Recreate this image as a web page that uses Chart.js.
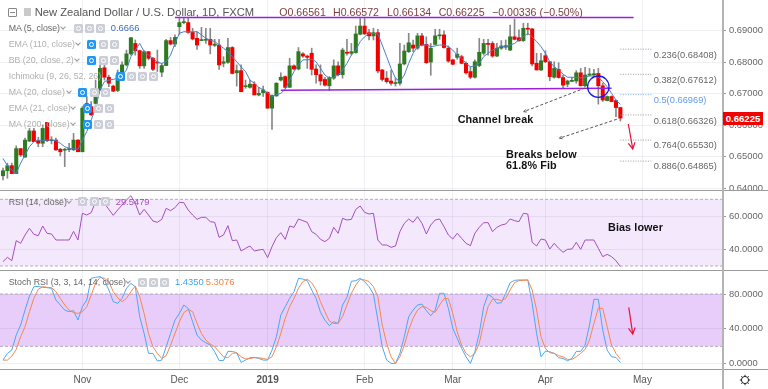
<!DOCTYPE html>
<html>
<head>
<meta charset="utf-8">
<script src="https://cdn.jsdelivr.net/npm/chart.js@4"></script>
<style>
html, body { margin: 0; padding: 0; background: #fff; }
#wrap { position: relative; width: 768px; height: 389px; overflow: hidden; font-family: "Liberation Sans", Arial, sans-serif; }
canvas { position: absolute; left: 0; }
.sep { position: absolute; left: 0; width: 768px; height: 1px; background: #9b9b9b; }
.vsep { position: absolute; left: 722px; top: 0; width: 2px; height: 389px; background: #b4b4b4; }
.t { position: absolute; white-space: nowrap; line-height: 12px; }
.lg { font-size: 8.8px; color: #b0b0b0; }
.lg.on { color: #666; }
.val { font-size: 9.4px; }
.fib { font-size: 9.3px; color: #666; }
.note { font-size: 10.8px; font-weight: bold; color: #111; letter-spacing: 0.1px; }
.ohlc { font-size: 10.6px; color: #7b3f3f; }
.btn { position: absolute; width: 9px; height: 9px; border-radius: 1.5px; background: #cbced6; }
.btn.blue { background: #2196f3; }
.btn::after { content: ""; position: absolute; left: 2px; top: 2px; width: 3px; height: 3px; border: 1px solid #fff; border-radius: 50%; }
.chev { position: absolute; width: 3px; height: 3px; border-right: 1px solid #999; border-bottom: 1px solid #999; transform: rotate(45deg); }
</style>
</head>
<body>
<div id="wrap">
  <canvas id="priceChart" width="768" height="190" style="top:0"></canvas>
  <canvas id="rsiChart" width="768" height="79" style="top:191px"></canvas>
  <canvas id="stochChart" width="768" height="118" style="top:271px"></canvas>
  <div class="sep" style="top:190px"></div>
  <div class="sep" style="top:270px"></div>
  <div class="sep" style="top:369px"></div>
  <div class="vsep"></div>
</div>
<script>
// candles (index 0 = mid Oct 2018, last = 24 Apr 2019)
const opens = [
  .6440,.6456,.6472,.6447,.6526,.6499,.6550,.6582,.6551,.6543,
  .6609,.6551,.6553,.6524,.6521,.6523,.6522,.6553,.6516,.6654,
  .6659,.6669,.6712,.6782,.6752,.6724,.6710,.6759,.6791,.6826,
  .6859,.6836,.6788,.6833,.6812,.6799,.6768,.6789,.6868,.6857,
  .6912,.6925,.6925,.6894,.6875,.6868,.6869,.6872,.6853,.6854,
  .6796,.6799,.6846,.6766,.6773,.6722,.6720,.6730,.6696,.6703,
  .6704,.6654,.6693,.6743,.6754,.6720,.6788,.6778,.6826,.6819,
  .6828,.6778,.6760,.6745,.6725,.6749,.6788,.6760,.6830,.6828,
  .6830,.6888,.6914,.6893,.6883,.6893,.6775,.6749,.6740,.6732,
  .6733,.6794,.6833,.6854,.6844,.6883,.6856,.6800,.6856,.6883,
  .6886,.6844,.6807,.6815,.6817,.6796,.6770,.6752,.6789,.6828,
  .6859,.6859,.6819,.6844,.6847,.6838,.6880,.6877,.6868,.6907,
  .6905,.6796,.6775,.6820,.6801,.6752,.6777,.6751,.6730,.6739,
  .6740,.6766,.6725,.6759,.6760,.6764,.6725,.6678,.6691,.6678,
  .66561];
const highs = [
  .6464,.6480,.6480,.6535,.6526,.6559,.6590,.6590,.6562,.6601,
  .6609,.6564,.6559,.6527,.6527,.6543,.6574,.6555,.6659,.6691,
  .6675,.6743,.6791,.6791,.6759,.6727,.6775,.6801,.6838,.6878,
  .6870,.6838,.6836,.6833,.6815,.6838,.6796,.6872,.6878,.6886,
  .6938,.6938,.6938,.6907,.6896,.6910,.6907,.6907,.6872,.6872,
  .6817,.6875,.6849,.6791,.6791,.6743,.6743,.6738,.6720,.6724,
  .6706,.6696,.6735,.6766,.6756,.6812,.6791,.6846,.6830,.6822,
  .6844,.6791,.6791,.6752,.6754,.6807,.6801,.6844,.6872,.6859,
  .6914,.6938,.6938,.6904,.6907,.6904,.6777,.6770,.6775,.6749,
  .6859,.6854,.6891,.6870,.6891,.6891,.6880,.6859,.6904,.6904,
  .6899,.6851,.6809,.6844,.6822,.6801,.6785,.6807,.6875,.6872,
  .6872,.6865,.6859,.6868,.6870,.6917,.6936,.6902,.6923,.6923,
  .6907,.6828,.6828,.6836,.6801,.6801,.6798,.6759,.6743,.6752,
  .6773,.6780,.6783,.6780,.6777,.6780,.6733,.6693,.6693,.6680,
  .66572];
const lows = [
  .6427,.6432,.6447,.6447,.6501,.6499,.6548,.6548,.6532,.6532,
  .6548,.6541,.6520,.6503,.6469,.6516,.6520,.6516,.6516,.6638,
  .6630,.6669,.6710,.6743,.6722,.6706,.6706,.6756,.6788,.6822,
  .6822,.6780,.6780,.6807,.6773,.6770,.6754,.6789,.6854,.6849,
  .6888,.6921,.6891,.6870,.6840,.6868,.6859,.6826,.6849,.6777,
  .6785,.6796,.6762,.6724,.6706,.6717,.6717,.6696,.6693,.6691,
  .6654,.6587,.6691,.6740,.6717,.6720,.6775,.6775,.6815,.6780,
  .6759,.6733,.6727,.6724,.6710,.6745,.6756,.6749,.6822,.6822,
  .6828,.6886,.6888,.6870,.6870,.6766,.6740,.6733,.6727,.6724,
  .6727,.6791,.6830,.6833,.6840,.6851,.6796,.6758,.6854,.6872,
  .6844,.6799,.6791,.6809,.6794,.6762,.6747,.6749,.6785,.6822,
  .6822,.6815,.6817,.6840,.6840,.6836,.6870,.6865,.6865,.6886,
  .6788,.6775,.6773,.6798,.6741,.6749,.6749,.6717,.6722,.6738,
  .6733,.6724,.6722,.6756,.6756,.6667,.6675,.6677,.6674,.6627,
  .66134];
const closes = [
  .6456,.6472,.6447,.6526,.6506,.6553,.6582,.6548,.6543,.6590,
  .6551,.6553,.6522,.6516,.6524,.6526,.6553,.6516,.6654,.6669,
  .6633,.6712,.6780,.6752,.6733,.6708,.6759,.6791,.6826,.6877,
  .6836,.6788,.6833,.6812,.6777,.6797,.6789,.6868,.6857,.6878,
  .6925,.6927,.6894,.6873,.6854,.6870,.6871,.6854,.6857,.6791,
  .6801,.6846,.6764,.6773,.6706,.6724,.6730,.6696,.6701,.6712,
  .6654,.6694,.6733,.6752,.6720,.6788,.6778,.6833,.6819,.6815,
  .6777,.6760,.6740,.6727,.6751,.6788,.6760,.6838,.6828,.6833,
  .6889,.6914,.6889,.6883,.6893,.6772,.6745,.6738,.6733,.6734,
  .6794,.6835,.6861,.6844,.6883,.6854,.6798,.6844,.6883,.6886,
  .6846,.6803,.6793,.6825,.6796,.6766,.6752,.6801,.6831,.6859,
  .6856,.6819,.6844,.6851,.6852,.6880,.6872,.6868,.6907,.6904,
  .6794,.6775,.6804,.6801,.6754,.6780,.6751,.6727,.6740,.6741,
  .6766,.6725,.6759,.6761,.6762,.6725,.6680,.6691,.6675,.6656,
  .66225];
const ma5 = [
  .6495,.6472,.6458,.6448,.6480,.6506,.6532,.6548,.6553,.6551,
  .6553,.6553,.6551,.6543,.6532,.6527,.6525,.6524,.6553,.6580,
  .6617,.6654,.6712,.6738,.6743,.6745,.6749,.6759,.6775,.6817,
  .6838,.6859,.6833,.6822,.6812,.6799,.6796,.6801,.6822,.6859,
  .6891,.6896,.6896,.6896,.6896,.6886,.6875,.6870,.6865,.6854,
  .6844,.6833,.6817,.6801,.6785,.6770,.6743,.6733,.6720,.6712,
  .6703,.6691,.6696,.6701,.6714,.6743,.6770,.6791,.6807,.6807,
  .6809,.6801,.6780,.6759,.6749,.6752,.6759,.6775,.6796,.6822,
  .6838,.6865,.6880,.6891,.6891,.6889,.6854,.6817,.6780,.6749,
  .6738,.6759,.6796,.6828,.6849,.6854,.6854,.6849,.6851,.6854,
  .6854,.6849,.6838,.6822,.6812,.6796,.6785,.6788,.6796,.6817,
  .6828,.6838,.6844,.6849,.6849,.6854,.6859,.6870,.6880,.6891,
  .6880,.6865,.6849,.6828,.6801,.6785,.6775,.6762,.6752,.6752,
  .6751,.6750,.6752,.6756,.6756,.6752,.6738,.6722,.6701,.6680,
  .6666];
const rsi = [
  32.6,35.2,33.2,45.2,43.6,48.6,52.6,49,48.2,54,
  49.6,49.2,45.6,45.6,45.6,45.6,50.8,45.6,61.6,60.6,
  62,68.6,70.6,67.6,64,60.4,63.6,66.6,69.6,72.2,
  67.6,60.6,64,60.6,57,56.2,58,64.6,63.2,65,
  68.2,68,63.6,60.6,58,59.2,59.2,56.6,56.2,47.2,
  48.6,54.2,45.2,45.6,39,40.6,42,39,39.6,40,
  35,41.6,47,50,46,54,53.2,58.2,57.2,56.2,
  50.6,49,46,44.6,46.6,53.2,49.6,58.6,57.6,58,
  64,66,62.2,61.2,61.6,45.6,42.6,42.6,41.2,42,
  50.6,55.6,58.2,56.2,59.6,55.6,49.2,54.6,57.6,58.2,
  53.6,48.6,46.2,49.6,46.6,43.6,42.2,49.6,53.2,56,
  56,50.6,53.2,54.6,55.2,58.2,57.2,56.6,61.6,61.2,
  44.2,42,46.2,45.6,40.2,43.6,40.6,38.2,40,40.2,
  44.2,40,45.6,45.6,45.6,40.6,35.6,37,35.6,33.2,
  29.5479];
const stochK = [
  4.2,11.9,15.7,32.9,44.4,61.6,77.7,88.4,88.8,87.7,
  87.3,86.5,73.1,67.4,61.6,59.7,60.9,50.1,65.5,73.1,
  98,99.1,100,96.1,84.6,71.2,69.3,75,86.5,92.3,
  88.4,54,34.8,11.9,11.9,3.1,4.2,19.5,34.8,50.1,
  57.8,67.4,63.5,48.2,32.9,27.2,24.1,21.4,13.8,3.8,
  3.8,14.2,14.2,12.6,1.5,4.2,6.9,7.3,6.1,4.2,
  4.2,15.7,31,55.9,65.5,75,82.7,98,97.2,95.3,
  84.6,75,59,50.1,43.6,48.2,46.3,67.4,76.2,94.6,
  95.3,98,94.2,88.4,80,50.1,19.5,4.2,0.4,0.4,
  11.9,31,54,61.6,67.4,68.5,60.9,55.1,61.6,80.8,
  80.8,63.5,40.6,29.1,17.6,8,0.4,13.8,34.8,65.5,
  79.6,76.2,69.3,70.1,80.8,93,95.7,96.1,96.1,96.1,
  69.3,34.8,8,14.5,13.8,11.9,6.9,6.1,3.4,6.1,
  14.2,14.2,21.4,44.4,73.9,73.9,38.7,15.7,8,7.3,
  1.435];
const stochD = [
  4.2,4.2,8.8,16.5,31,42.5,59.7,75,85.4,88.4,
  87.7,87.3,82.7,75,67.4,61.6,58.6,57.8,59.7,65.5,
  78.9,92.3,99.1,98,94.2,82.7,75.8,71.2,75,82.7,
  89.2,76.9,57.8,34.8,19.5,11.9,6.1,9.2,21.4,34.8,
  48.2,58.6,62.4,59.7,46.3,34.8,27.2,22.6,19.5,13.8,
  8,6.9,11.9,12.6,8,5.4,6.1,6.9,6.9,6.1,
  5,8,19.5,34.8,52.1,65.5,75,86.5,94.2,96.9,
  93,84.6,71.2,59.7,49,46.3,46.3,54,67.4,80.8,
  90.3,96.9,96.1,94.2,88.4,76.9,44.4,23.4,8,0.4,
  8,21.4,38.7,52.1,61.6,65.5,64.7,60.9,59,67.4,
  74.7,74.7,57.8,36.7,21.4,11.9,8,11.9,23.4,46.3,
  65.5,73.9,73.9,72.4,75,84.6,93,95.3,95.7,96.1,
  84.6,61.6,31,17.6,12.6,11.9,9.2,8,5,5,
  8,11.9,16.5,27.2,46.3,63.9,63.5,42.5,21.4,11.9,
  5.3076];

// axis ticks
const monthIdx = [18, 40, 60, 82, 102, 123, 145];
const monthNames = ['Nov', 'Dec', '2019', 'Feb', 'Mar', 'Apr', 'May'];
const priceTicks = [0.64, 0.65, 0.66, 0.67, 0.68, 0.69];
const rsiTicks = [40, 60];
const stochTicks = [0, 40, 80];

// trader drawings, in bar index / axis value
const channelTop = [[39, 0.6941], [143, 0.6941]];
const channelLow = [[63, 0.6711], [138, 0.6717]];
const fibX = [140, 147];
const fibLevels = [0.68408, 0.67612, 0.66969, 0.66326, 0.6553, 0.64865];
const fibNames = ['0.236(0.68408)', '0.382(0.67612)', '0.5(0.66969)', '0.618(0.66326)', '0.764(0.65530)', '0.886(0.64865)'];
const dashArrows = [[[132, 0.6718], [118.1, 0.6643]], [[139.2, 0.6619], [126.2, 0.6559]]];
const priceArrow = [[141.8, 0.6604], [142.8, 0.6525]];
const stochArrow = [[141.9, 64.7], [142.8, 34.1]];
const circleAt = [135, 0.6722];

const xMin = -0.68;
const xMax = 163.27;
const idx = opens.map((_, i) => i);
const asPoints = arr => arr.map((v, i) => ({ x: i, y: v }));
const gridColor = 'rgba(30,40,80,0.07)';

function xAxis(showLabels) {
    return {
        type: 'linear',
        offset: false,
        min: xMin,
        max: xMax,
        afterBuildTicks: axis => { axis.ticks = monthIdx.map(v => ({ value: v })); },
        afterFit: axis => {
            axis.height = showLabels ? 20 : 0;
            axis.paddingLeft = axis.paddingRight = 0;
        },
        border: { display: false },
        grid: { color: gridColor, drawTicks: false, offset: false },
        ticks: {
            display: showLabels,
            autoSkip: false,
            maxRotation: 0,
            padding: 5,
            color: '#555',
            font: c => ({ family: 'Liberation Sans', size: 10, weight: c.tick && c.tick.value === 60 ? 'bold' : 'normal' }),
            callback: v => monthNames[monthIdx.indexOf(v)]
        }
    };
}

function yAxis(min, max, ticks, digits) {
    return {
        position: 'right',
        min: min,
        max: max,
        afterBuildTicks: axis => { axis.ticks = ticks.map(v => ({ value: v })); },
        afterFit: axis => {
            axis.width = 45;
            axis.paddingTop = axis.paddingBottom = 0;
        },
        border: { display: false },
        grid: { color: gridColor, tickLength: 3, tickColor: '#999' },
        ticks: {
            padding: 3,
            color: '#666',
            font: { family: 'Liberation Sans', size: 9.4 },
            callback: v => v.toFixed(digits)
        }
    };
}

function arrowHead(ctx, from, to, size) {
    const a = Math.atan2(to.y - from.y, to.x - from.x);
    ctx.beginPath();
    ctx.moveTo(to.x - size * Math.cos(a - 0.5), to.y - size * Math.sin(a - 0.5));
    ctx.lineTo(to.x, to.y);
    ctx.lineTo(to.x - size * Math.cos(a + 0.5), to.y - size * Math.sin(a + 0.5));
    ctx.stroke();
}

function toPx(chart, p) {
    return { x: chart.scales.x.getPixelForValue(p[0]), y: chart.scales.y.getPixelForValue(p[1]) };
}

// shaded band with dashed edges for the oscillators
function bandPlugin(lo, hi, fill) {
    return {
        id: 'band',
        beforeDraw(chart) {
            const { ctx, chartArea: a, scales } = chart;
            const yHi = scales.y.getPixelForValue(hi);
            const yLo = scales.y.getPixelForValue(lo);
            ctx.save();
            ctx.fillStyle = fill;
            ctx.fillRect(a.left, yHi, a.right - a.left, yLo - yHi);
            ctx.restore();
        },
        afterDatasetsDraw(chart) {
            const { ctx, chartArea: a, scales } = chart;
            ctx.save();
            ctx.strokeStyle = '#b9a9bf';
            ctx.setLineDash([3, 2]);
            [hi, lo].forEach(v => {
                const y = scales.y.getPixelForValue(v);
                ctx.beginPath();
                ctx.moveTo(a.left, y);
                ctx.lineTo(a.right, y);
                ctx.stroke();
            });
            ctx.restore();
        }
    };
}

const drawings = {
    id: 'drawings',
    afterDatasetsDraw(chart) {
        const ctx = chart.ctx;
        ctx.save();
        ctx.lineWidth = 1.4;
        ctx.strokeStyle = '#9a1fe0';
        [channelTop, channelLow].forEach(l => {
            const a = toPx(chart, l[0]), b = toPx(chart, l[1]);
            ctx.beginPath();
            ctx.moveTo(a.x, a.y);
            ctx.lineTo(b.x, b.y);
            ctx.stroke();
        });
        ctx.lineWidth = 1;
        ctx.strokeStyle = '#9a9a9a';
        ctx.setLineDash([1, 1.5]);
        fibLevels.forEach((v, i) => {
            const a = toPx(chart, [fibX[0], v]), b = toPx(chart, [fibX[1], v]);
            ctx.strokeStyle = i === 2 ? '#7fb0ee' : '#9a9a9a';
            ctx.beginPath();
            ctx.moveTo(a.x, a.y);
            ctx.lineTo(b.x, b.y);
            ctx.stroke();
        });
        ctx.strokeStyle = '#555';
        dashArrows.forEach(l => {
            const a = toPx(chart, l[0]), b = toPx(chart, l[1]);
            ctx.setLineDash([3, 2]);
            ctx.beginPath();
            ctx.moveTo(a.x, a.y);
            ctx.lineTo(b.x, b.y);
            ctx.stroke();
            ctx.setLineDash([]);
            arrowHead(ctx, a, b, 3);
        });
        const c = toPx(chart, circleAt);
        ctx.strokeStyle = '#1a1ae6';
        ctx.lineWidth = 1.3;
        ctx.beginPath();
        ctx.arc(c.x, c.y, 10.7, 0, Math.PI * 2);
        ctx.stroke();
        redArrow(chart, priceArrow);
        ctx.restore();
    }
};

function redArrow(chart, line) {
    const ctx = chart.ctx;
    const a = toPx(chart, line[0]), b = toPx(chart, line[1]);
    ctx.save();
    ctx.setLineDash([]);
    ctx.strokeStyle = '#e8123c';
    ctx.lineWidth = 1.2;
    ctx.beginPath();
    ctx.moveTo(a.x, a.y);
    ctx.lineTo(b.x, b.y);
    ctx.stroke();
    arrowHead(ctx, a, b, 7);
    ctx.restore();
}

new Chart(document.getElementById('priceChart'), {
    data: {
        datasets: [
            {
                type: 'line',
                data: asPoints(ma5),
                borderColor: '#4a7fc4',
                borderWidth: 1,
                pointRadius: 0,
                order: 0
            },
            {
                type: 'bar',
                data: idx.map(i => ({ x: i, y: [opens[i], closes[i]] })),
                backgroundColor: idx.map(i => closes[i] >= opens[i] ? '#2d7a22' : '#f20000'),
                barThickness: 3.4,
                minBarLength: 1,
                grouped: false,
                order: 1
            },
            {
                type: 'bar',
                data: idx.map(i => ({ x: i, y: [lows[i], highs[i]] })),
                backgroundColor: '#888',
                barThickness: 1,
                grouped: false,
                order: 2
            }
        ]
    },
    options: {
        responsive: false,
        animation: false,
        layout: { padding: 0 },
        plugins: { legend: { display: false }, tooltip: { enabled: false } },
        scales: { x: xAxis(false), y: yAxis(0.6395, 0.69965, priceTicks, 5) }
    },
    plugins: [drawings]
});

new Chart(document.getElementById('rsiChart'), {
    type: 'line',
    data: {
        datasets: [{
            data: asPoints(rsi),
            borderColor: '#a54fc0',
            borderWidth: 1,
            pointRadius: 0
        }]
    },
    options: {
        responsive: false,
        animation: false,
        layout: { padding: 0 },
        plugins: { legend: { display: false }, tooltip: { enabled: false } },
        scales: { x: xAxis(false), y: yAxis(27.6, 75, rsiTicks, 4) }
    },
    plugins: [bandPlugin(30, 70, '#f4e8fd')]
});

new Chart(document.getElementById('stochChart'), {
    type: 'line',
    data: {
        datasets: [
            { data: asPoints(stochD), borderColor: '#f5874f', borderWidth: 1, pointRadius: 0 },
            { data: asPoints(stochK), borderColor: '#4aa8f5', borderWidth: 1, pointRadius: 0 }
        ]
    },
    options: {
        responsive: false,
        animation: false,
        layout: { padding: 0 },
        plugins: { legend: { display: false }, tooltip: { enabled: false } },
        scales: { x: xAxis(true), y: yAxis(-6, 106.4, stochTicks, 4) }
    },
    plugins: [
        bandPlugin(20, 80, '#e8cdfb'),
        { id: 'stochArrow', afterDatasetsDraw: chart => redArrow(chart, stochArrow) }
    ]
});

// html overlay: legends, labels, price box
const wrap = document.getElementById('wrap');

function addText(cls, x, y, str, color) {
    const d = document.createElement('div');
    d.className = 't ' + cls;
    d.style.left = x + 'px';
    d.style.top = (y - 6) + 'px';
    if (color) d.style.color = color;
    d.textContent = str;
    wrap.appendChild(d);
    return d;
}

function addRow(y, label, on, chevX, buttons, blueFirst) {
    addText('lg' + (on ? ' on' : ''), 8.7, y, label);
    if (chevX) {
        const ch = document.createElement('div');
        ch.className = 'chev';
        ch.style.left = (chevX - 2) + 'px';
        ch.style.top = (y - 3) + 'px';
        wrap.appendChild(ch);
    }
    buttons.forEach((bx, i) => {
        const b = document.createElement('div');
        b.className = 'btn' + (blueFirst && i === 0 ? ' blue' : '');
        b.style.left = (bx - 4.5) + 'px';
        b.style.top = (y - 4.5) + 'px';
        wrap.appendChild(b);
    });
}

addRow(28, 'MA (5, close)', true, 63, [78, 89, 100.7], false);
addRow(44, 'EMA (110, close)', false, 77.7, [91.7, 103, 114], true);
addRow(60, 'BB (20, close, 2)', false, 77.3, [91.7, 103, 114], true);
addRow(76, 'Ichimoku (9, 26, 52, 26)', false, 0, [120.7, 131.7, 142.7, 153.7], true);
addRow(92, 'MA (20, close)', false, 68.7, [82.7, 94, 105], true);
addRow(108, 'EMA (21, close)', false, 73, [87.3, 98.7, 109.7], true);
addRow(124, 'MA (200, close)', false, 73, [87.3, 98.7, 109.7], true);
addRow(201.7, 'RSI (14, close)', true, 69, [82.7, 94.7, 105.7], false);
addRow(282, 'Stoch RSI (3, 3, 14, 14, close)', true, 128, [142, 153.3, 164.3], false);

addText('val', 110.7, 28, '0.6666', '#3f6fb8');
addText('val', 115.7, 201.7, '29.5479', '#a54fc0');
addText('val', 175, 282, '1.4350', '#3da3f5');
addText('val', 205.7, 282, '5.3076', '#f5813f');

// title bar
const box = document.createElement('div');
box.style.cssText = 'position:absolute;left:8px;top:8px;width:7px;height:7px;border:1px solid #888;border-radius:1px;background:linear-gradient(#888,#888) center/5px 1px no-repeat;';
wrap.appendChild(box);
const flag = document.createElement('div');
flag.style.cssText = 'position:absolute;left:24px;top:8px;width:7px;height:8px;background:#c9c9c9;';
wrap.appendChild(flag);
addText('', 34.7, 11.7, 'New Zealand Dollar / U.S. Dollar, 1D, FXCM', '#555').style.fontSize = '11.2px';
addText('ohlc', 279.3, 11.7, 'O0.66561');
addText('ohlc', 333, 11.7, 'H0.66572');
addText('ohlc', 387, 11.7, 'L0.66134');
addText('ohlc', 438.7, 11.7, 'C0.66225');
addText('ohlc', 492, 11.7, '\u22120.00336 (\u22120.50%)');

// fib labels and notes
[55, 79.5, 100, 120.5, 145, 166].forEach((y, i) => {
    addText('fib', 653.7, y, fibNames[i], i === 2 ? '#5f9be8' : '#666');
});
addText('note', 457.7, 119, 'Channel break');
addText('note', 506, 154, 'Breaks below');
addText('note', 506, 164.5, '61.8% Fib');
addText('note', 608, 226.7, 'Bias lower');

// last price box
const last = addText('', 723, 118.5, '0.66225', '#fff');
last.style.cssText += 'background:#f20000;font-size:9.6px;font-weight:bold;width:40px;height:13px;line-height:13px;text-align:center;top:112px;';

// settings gear
const gear = document.createElementNS('http://www.w3.org/2000/svg', 'svg');
gear.setAttribute('width', '12');
gear.setAttribute('height', '12');
gear.style.cssText = 'position:absolute;left:739px;top:374px;';
gear.innerHTML = '<circle cx="6" cy="6" r="3.6" fill="none" stroke="#222" stroke-width="1"/><path d="M6 .8V2.4M6 9.6v1.6M.8 6h1.6M9.6 6h1.6M2.3 2.3l1.1 1.1M8.6 8.6l1.1 1.1M2.3 9.7l1.1-1.1M8.6 3.4l1.1-1.1" stroke="#222" stroke-width="1"/>';
wrap.appendChild(gear);
</script>
</body>
</html>
